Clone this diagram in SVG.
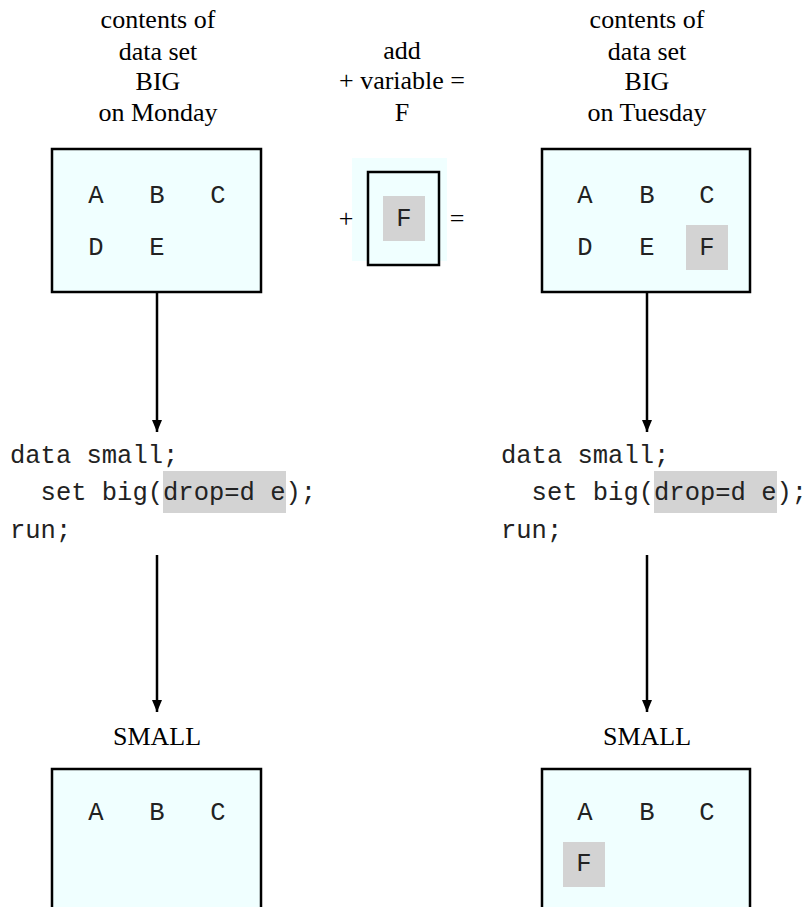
<svg xmlns="http://www.w3.org/2000/svg" width="807" height="907" viewBox="0 0 807 907">
  <style>
    .lbl { font-family: "Liberation Serif", "Times New Roman", serif; font-size: 26px; fill: #000; text-anchor: middle; }
    .mono { font-family: "Liberation Mono", "Courier New", monospace; font-size: 25.5px; fill: #222; }
    .var { text-anchor: middle; }
    .box { fill: #f0ffff; stroke: #000; stroke-width: 2.5; }
    .hl { fill: #d3d3d3; }
    .wire { stroke: #000; stroke-width: 2.5; fill: none; marker-end: url(#arrow); }
  </style>
  <defs>
    <marker id="arrow" markerWidth="12" markerHeight="10" refX="12" refY="5" orient="auto" markerUnits="userSpaceOnUse" viewBox="0 0 12 10">
      <path d="M0,0 L12,5 L0,10 Z" fill="#000"/>
    </marker>
  </defs>

  <rect width="807" height="907" fill="#fff"/>

  <!-- Monday column -->
  <g id="title-monday">
    <text class="lbl" x="158" y="28">contents of</text>
    <text class="lbl" x="158" y="60">data set</text>
    <text class="lbl" x="158" y="90">BIG</text>
    <text class="lbl" x="158" y="121">on Monday</text>
  </g>
  <g id="big-monday">
    <rect class="box" x="52" y="149" width="209" height="143"/>
    <text class="mono var" x="96" y="203">A</text>
    <text class="mono var" x="157" y="203">B</text>
    <text class="mono var" x="218" y="203">C</text>
    <text class="mono var" x="96" y="255">D</text>
    <text class="mono var" x="157" y="255">E</text>
  </g>

  <!-- added variable -->
  <g id="add-variable">
    <text class="lbl" x="402" y="59">add</text>
    <text class="lbl" x="402" y="89">+ variable =</text>
    <text class="lbl" x="402" y="121">F</text>
    <rect x="352" y="158" width="95" height="103" fill="#f0ffff"/>
    <rect x="368" y="172" width="71" height="93" fill="#f0ffff" stroke="#000" stroke-width="2.5"/>
    <rect class="hl" x="383" y="196" width="42" height="45"/>
    <text class="mono var" x="404" y="226">F</text>
    <text class="lbl" x="346" y="227">+</text>
    <text class="lbl" x="457" y="227">=</text>
  </g>

  <!-- Tuesday column -->
  <g id="title-tuesday">
    <text class="lbl" x="647" y="28">contents of</text>
    <text class="lbl" x="647" y="60">data set</text>
    <text class="lbl" x="647" y="90">BIG</text>
    <text class="lbl" x="647" y="121">on Tuesday</text>
  </g>
  <g id="big-tuesday">
    <rect class="box" x="542" y="149" width="208" height="143"/>
    <rect class="hl" x="686" y="225" width="42" height="45"/>
    <text class="mono var" x="585" y="203">A</text>
    <text class="mono var" x="647" y="203">B</text>
    <text class="mono var" x="707" y="203">C</text>
    <text class="mono var" x="585" y="255">D</text>
    <text class="mono var" x="647" y="255">E</text>
    <text class="mono var" x="707" y="255">F</text>
  </g>

  <!-- DATA step code -->
  <g id="code-monday">
    <rect class="hl" x="163" y="471" width="123" height="42"/>
    <text class="mono" x="10" y="463" xml:space="preserve">data small;</text>
    <text class="mono" x="10" y="500" xml:space="preserve">  set big(drop=d e);</text>
    <text class="mono" x="10" y="538" xml:space="preserve">run;</text>
  </g>
  <g id="code-tuesday">
    <rect class="hl" x="654" y="471" width="123" height="42"/>
    <text class="mono" x="501" y="463" xml:space="preserve">data small;</text>
    <text class="mono" x="501" y="500" xml:space="preserve">  set big(drop=d e);</text>
    <text class="mono" x="501" y="538" xml:space="preserve">run;</text>
  </g>

  <!-- SMALL results -->
  <g id="small-monday">
    <text class="lbl" x="157" y="745">SMALL</text>
    <rect class="box" x="52" y="769" width="209" height="160"/>
    <text class="mono var" x="96" y="820">A</text>
    <text class="mono var" x="157" y="820">B</text>
    <text class="mono var" x="218" y="820">C</text>
  </g>
  <g id="small-tuesday">
    <text class="lbl" x="647" y="745">SMALL</text>
    <rect class="box" x="542" y="769" width="208" height="160"/>
    <rect class="hl" x="563" y="842" width="42" height="45"/>
    <text class="mono var" x="585" y="820">A</text>
    <text class="mono var" x="647" y="820">B</text>
    <text class="mono var" x="707" y="820">C</text>
    <text class="mono var" x="584" y="871">F</text>
  </g>

  <!-- connectors -->
  <g id="connectors">
    <line class="wire" x1="157" y1="292" x2="157" y2="432"/>
    <line class="wire" x1="157" y1="555" x2="157" y2="712"/>
    <line class="wire" x1="647" y1="292" x2="647" y2="432"/>
    <line class="wire" x1="647" y1="555" x2="647" y2="712"/>
  </g>
</svg>
